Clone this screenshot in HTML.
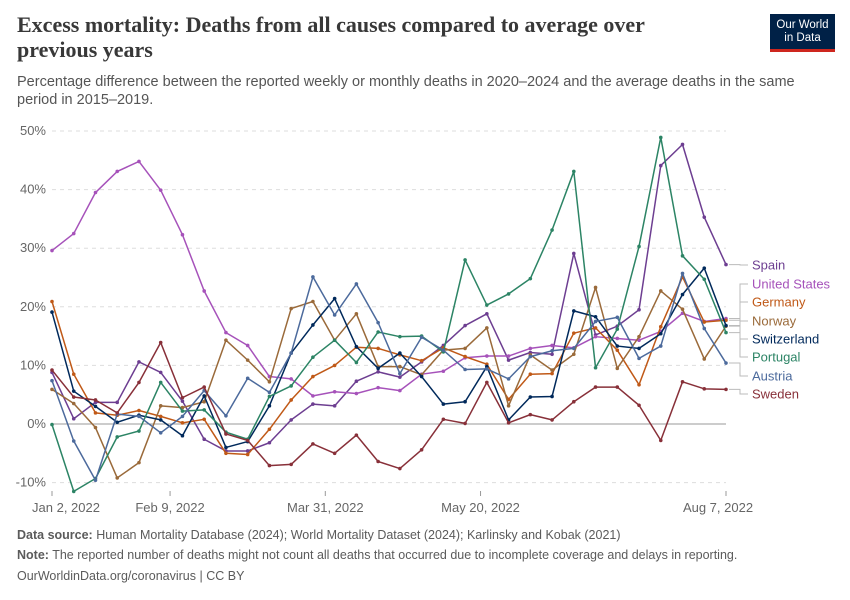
<!DOCTYPE html>
<html><head><meta charset="utf-8"><style>
body{margin:0;background:#fff;font-family:"Liberation Sans",sans-serif}
#wrap{position:relative;width:850px;height:600px;overflow:hidden}
.t{position:absolute;left:17px;top:12px;font-family:"Liberation Serif",serif;font-weight:bold;font-size:22px;line-height:25px;color:#383838;width:700px}
.st{position:absolute;left:17px;top:73px;font-size:14.5px;line-height:18px;color:#555;width:790px}
.logo{position:absolute;left:770px;top:14px;width:65px;height:38px;background:#002147;color:#fff;font-size:11.5px;line-height:13px;text-align:center;padding-top:5px;box-sizing:border-box;border-bottom:3px solid #ce261e}
.f{position:absolute;left:17px;font-size:12.5px;color:#5b5b5b}
</style></head><body>
<div id="wrap">
<div class="t">Excess mortality: Deaths from all causes compared to average over previous years</div>
<div class="st">Percentage difference between the reported weekly or monthly deaths in 2020–2024 and the average deaths in the same period in 2015–2019.</div>
<div class="logo">Our World<br>in Data</div>
<svg id="c" width="850" height="600" style="position:absolute;left:0;top:0"></svg>
<div class="f" style="top:528px"><b>Data source:</b> Human Mortality Database (2024); World Mortality Dataset (2024); Karlinsky and Kobak (2021)</div>
<div class="f" style="top:548px"><b>Note:</b> The reported number of deaths might not count all deaths that occurred due to incomplete coverage and delays in reporting.</div>
<div class="f" style="top:569px">OurWorldinData.org/coronavirus | CC BY</div>
</div>
<script>
const yTicks=[-10,0,10,20,30,40,50];
const xTickLabels=["Jan 2, 2022","Feb 9, 2022","Mar 31, 2022","May 20, 2022","Aug 7, 2022"];
const xTickWeeks=[0,5.43,12.57,19.71,31];
const seriesNames=["Spain","United States","Germany","Norway","Switzerland","Portugal","Austria","Sweden"];
const seriesColors=["#6d3e91","#a652ba","#c05917","#9a6a3a","#00295b","#2c8465","#4c6a9c","#883039"];
const spain=[8.8,0.9,3.7,3.7,10.6,8.8,3.9,-2.6,-4.6,-4.6,-3.2,0.7,3.4,3.1,7.3,8.9,8.0,10.6,13.4,16.8,18.8,10.9,12.2,11.9,29.1,15.2,16.7,19.5,44.1,47.7,35.3,27.2];
const us=[29.6,32.5,39.5,43.1,44.8,39.9,32.3,22.7,15.6,13.4,8.1,7.7,4.8,5.5,5.2,6.2,5.7,8.5,9.0,11.3,11.6,11.6,12.9,13.4,13.0,14.9,14.6,14.3,15.8,18.9,17.5,18.0];
const germany=[20.9,8.5,1.9,1.5,2.3,1.3,0.2,0.8,-5.0,-5.2,-0.9,4.1,8.1,10.0,13.1,12.9,11.8,10.8,13.0,11.5,10.2,4.2,8.5,8.6,15.5,16.4,12.6,6.7,16.6,25.1,17.4,17.7];
const norway=[5.9,3.5,-0.6,-9.2,-6.6,3.1,2.8,3.8,14.3,10.9,7.2,19.7,20.9,14.3,18.8,9.8,9.8,8.4,12.6,12.9,16.4,3.1,11.8,9.2,11.9,23.3,9.5,14.9,22.7,19.6,11.1,16.7];
const switzerland=[19.1,5.6,3.0,0.3,1.5,0.7,-2.0,4.8,-4.0,-3.0,3.1,12.1,16.9,21.4,13.2,9.5,12.1,8.1,3.4,3.8,9.8,0.7,4.6,4.7,19.3,18.3,13.3,12.9,15.4,22.1,26.6,16.8];
const portugal=[-0.1,-11.5,-9.3,-2.2,-1.2,7.1,2.2,2.4,-1.4,-2.6,4.7,6.5,11.4,14.3,10.5,15.7,14.9,15.0,12.3,28.0,20.3,22.2,24.8,33.1,43.1,9.6,16.2,30.3,48.9,28.7,24.7,15.6];
const austria=[7.4,-2.9,-9.6,1.7,1.3,-1.5,1.3,5.7,1.4,7.8,5.4,12.1,25.1,18.6,23.9,17.3,8.6,14.8,12.6,9.3,9.4,7.7,11.5,12.5,12.9,17.5,18.2,11.2,13.3,25.7,16.3,10.4];
const sweden=[9.2,4.6,4.1,1.9,7.1,13.9,4.5,6.3,-1.7,-2.8,-7.1,-6.9,-3.4,-5.0,-1.9,-6.4,-7.6,-4.4,0.8,0.1,7.1,0.2,1.6,0.7,3.8,6.3,6.3,3.2,-2.8,7.2,6.0,5.9];
const seriesData=[spain,us,germany,norway,switzerland,portugal,austria,sweden];
const labelY=[265,284,302,321,339,357,376,394];

const NS="http://www.w3.org/2000/svg";
const svg=document.getElementById('c');
const X0=52,X1=726,Y0=424,PX=5.86;
const xs=i=>X0+(X1-X0)*i/31;
const ys=v=>Y0-v*PX;
function mk(t,a){const e=document.createElementNS(NS,t);for(const k in a)e.setAttribute(k,a[k]);svg.appendChild(e);return e;}
yTicks.forEach(v=>{
  const l=mk('line',{x1:X0,x2:X1,y1:ys(v),y2:ys(v),stroke:v===0?'#999':'#ddd','stroke-dasharray':v===0?'':'4,4','stroke-width':1});
  
  
  const t=mk('text',{x:46,y:ys(v)+4,'text-anchor':'end','font-size':13,fill:'#666','font-family':'Liberation Sans, sans-serif'});
  t.textContent=v+'%';
  
  
});
xTickLabels.forEach((s,i)=>{
  const x=xs(xTickWeeks[i]);
  const tk=mk('line',{x1:x,x2:x,y1:491,y2:496,stroke:'#999'});
  
  
  const t=mk('text',{x:i===0?x+14:(i===4?x-8:x),y:512,'text-anchor':'middle','font-size':13,fill:'#666','font-family':'Liberation Sans, sans-serif'});
  t.textContent=s;
  
  
});
seriesData.forEach((d,si)=>{
  const c=seriesColors[si];
  const p=mk('polyline',{points:d.map((v,i)=>xs(i)+','+ys(v)).join(' '),fill:'none',stroke:c,'stroke-width':1.5,'stroke-linejoin':'round'});
  
  
  d.forEach((v,i)=>{
    const m=mk('circle',{cx:xs(i),cy:ys(v),r:1.8,fill:c});
    
    
  });
  const ey=ys(d[31]),ly=labelY[si];
  const cn=mk('polyline',{points:`${X1+3},${ey} ${740},${ey} ${740},${ly} ${748},${ly}`,fill:'none',stroke:'#bbb','stroke-width':1});
  
  
  const t=mk('text',{x:752,y:ly+4.5,'font-size':13,fill:c,'font-family':'Liberation Sans, sans-serif'});
  t.textContent=seriesNames[si];
  
  
});
</script>
</body></html>
